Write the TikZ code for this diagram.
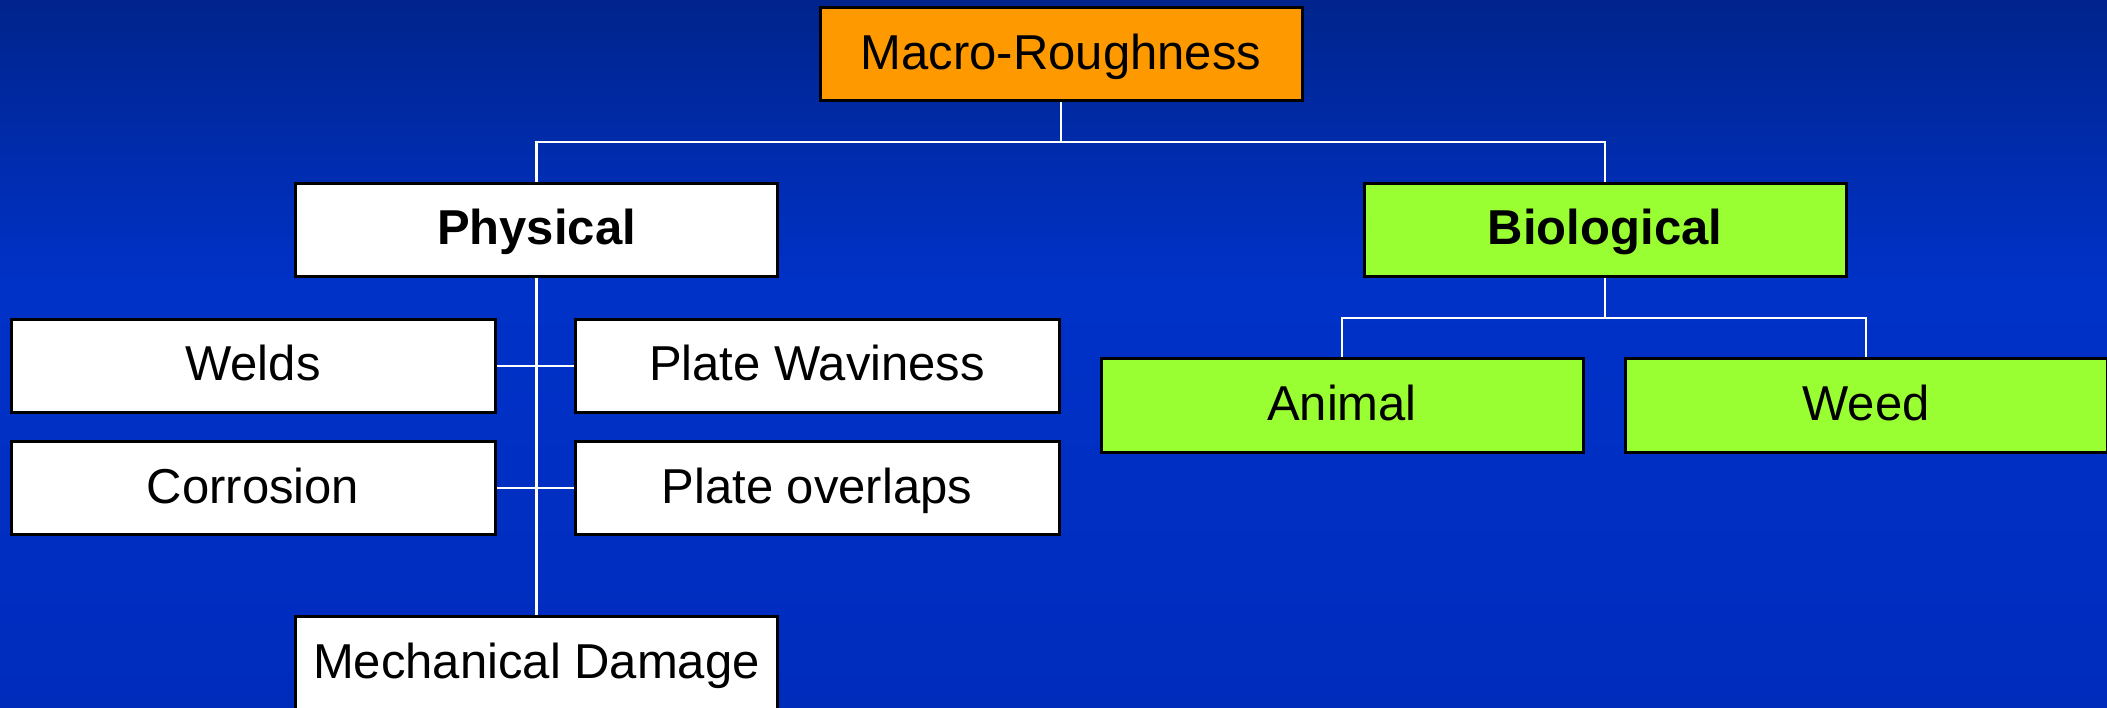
\documentclass[tikz,border=0pt]{standalone}
\usepackage{fontspec}
\setmainfont{Liberation Sans}
\definecolor{bgtop}{RGB}{0,36,140}
\definecolor{bgmid}{RGB}{0,50,200}
\definecolor{bgbot}{RGB}{0,44,188}
\definecolor{orangebox}{RGB}{255,153,0}
\definecolor{greenbox}{RGB}{153,255,51}
\pgfdeclareverticalshading{bgshade}{100bp}{color(0bp)=(bgbot); color(25bp)=(bgbot); color(54.7bp)=(bgmid); color(75bp)=(bgtop); color(100bp)=(bgtop)}
\tikzset{
  box/.style={draw=black, line width=3pt, minimum width=482pt, minimum height=93pt,
    inner sep=0pt, text height=38pt, text depth=8pt, font=\fontsize{49}{58}\selectfont},
  orangebx/.style={box, fill=orangebox},
  whitebx/.style={box, fill=white},
  greenbx/.style={box, fill=greenbox},
  link/.style={draw=white, line width=2.5pt}
}
\begin{document}
\begin{tikzpicture}[x=1pt,y=-1pt]
\useasboundingbox (0,0) rectangle (2107,708);
\shade[shading=bgshade] (0,0) rectangle (2107,708);
% nodes
\node[orangebx] (macro) at (1061,54.5) {Macro-Roughness};
\node[whitebx] (phys) at (536.5,230) {\bfseries Physical};
\node[greenbx] (bio) at (1605,230) {\bfseries Biological};
\node[whitebx, minimum width=484pt] (welds) at (253,366) {Welds};
\node[whitebx, minimum width=484pt] (wavy) at (817,366) {Plate Waviness};
\node[whitebx, minimum width=484pt] (corr) at (253,488) {Corrosion};
\node[whitebx, minimum width=484pt] (overl) at (817,488) {Plate overlaps};
\node[greenbx] (animal) at (1342,405.5) {Animal};
\node[greenbx] (weed) at (1866,405.5) {Weed};
\node[whitebx, minimum height=94pt] (mech) at (536.5,663) {Mechanical Damage};
% coordinates
\coordinate (topbar) at (1061,142);
\coordinate (biobar) at (1605,318);
% connectors
\draw[link] (macro.south) -- (topbar);
\draw[link] (phys.north) |- (topbar) -| (bio.north);
\draw[link] (bio.south) -- (biobar);
\draw[link] (animal.north) |- (biobar) -| (weed.north);
\draw[link] (phys.south) -- (mech.north);
\draw[link] (welds.east) -- (wavy.west);
\draw[link] (corr.east) -- (overl.west);
\end{tikzpicture}
\end{document}
